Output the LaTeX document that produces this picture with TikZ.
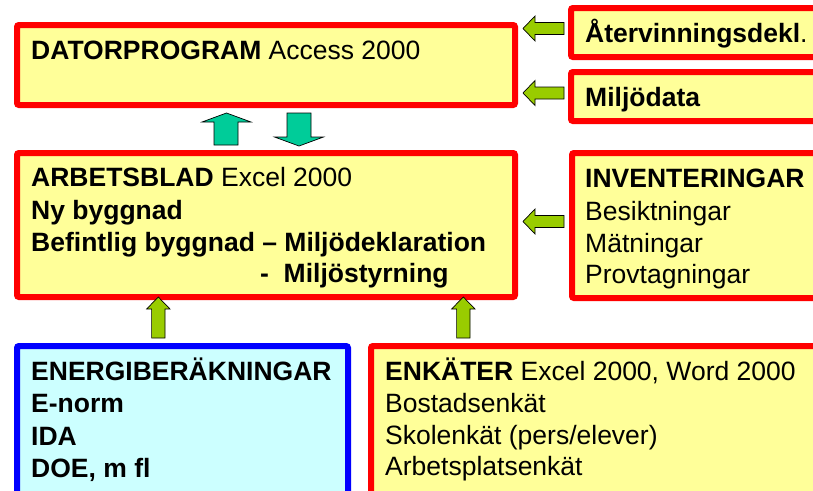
\documentclass[tikz,border=0pt]{standalone}
\usepackage{fontspec}
\setmainfont{Liberation Sans}
\definecolor{boxyellow}{HTML}{FFFF99}
\definecolor{boxcyan}{HTML}{CCFFFF}
\definecolor{arrgreen}{HTML}{99CC00}
\definecolor{arrteal}{HTML}{00CC99}
\tikzset{
  box/.style={draw=red, fill=boxyellow, line width=6pt, rounded corners=2pt, inner sep=0pt, outer sep=0pt, anchor=north west},
  bluebox/.style={box, draw=blue, fill=boxcyan},
  txt/.style={inner sep=0pt, anchor=base west, font=\fontsize{26.5}{32}\selectfont},
  garrow/.style={draw=black, line width=0.7pt, fill=arrgreen, line join=miter},
  tarrow/.style={draw=black, line width=0.7pt, fill=arrteal, line join=miter},
  pics/leftarr/.style={code={\draw[garrow] (0,0) -- (12,-12.5) -- (12,-6) -- (41,-6) -- (41,6) -- (12,6) -- (12,12.5) -- cycle;}},
  pics/uparr/.style={code={\draw[garrow] (0,0) -- (11.7,12) -- (6.7,12) -- (6.7,41) -- (-6.7,41) -- (-6.7,12) -- (-11.7,12) -- cycle;}},
}
\begin{document}
\begin{tikzpicture}[x=1pt,y=-1pt]
\useasboundingbox (0,0) rectangle (813,490);
\clip (0,0) rectangle (813,490);
% boxes
\node[box, minimum width=498pt, minimum height=80pt] (dator) at (17,25) {};
\node[box, minimum width=260pt, minimum height=49pt] (ater) at (571,8) {};
\node[box, minimum width=260pt, minimum height=49pt] (milj) at (571,72) {};
\node[box, minimum width=498pt, minimum height=144pt] (arb) at (17,153) {};
\node[box, minimum width=260pt, minimum height=145pt] (inv) at (572,153) {};
\node[bluebox, minimum width=331pt, minimum height=160pt] (energi) at (17,346) {};
\node[box, minimum width=460pt, minimum height=160pt] (enk) at (371,346) {};
% texts
\node[txt] (t1) at (31,59) {\textbf{DATORPROGRAM} Access 2000};
\node[txt] (t2) at (585,42) {\textbf{Återvinningsdekl}.};
\node[txt] (t3) at (585,106) {\textbf{Miljödata}};
\node[txt] (t4) at (31,186) {\textbf{ARBETSBLAD} Excel 2000};
\node[txt] (t5) at (31,219) {\textbf{Ny byggnad}};
\node[txt] (t6) at (31,251) {\textbf{Befintlig byggnad – Miljödeklaration}};
\node[txt] (t7) at (260,282) {\textbf{-\ \ Miljöstyrning}};
\node[txt] (t8) at (585,187) {\textbf{INVENTERINGAR}};
\node[txt] (t9) at (585,220) {Besiktningar};
\node[txt] (t10) at (585,252) {Mätningar};
\node[txt] (t11) at (585,283) {Provtagningar};
\node[txt] (t12) at (31,380) {\textbf{ENERGIBERÄKNINGAR}};
\node[txt] (t13) at (31,412) {\textbf{E-norm}};
\node[txt] (t14) at (31,445) {\textbf{IDA}};
\node[txt] (t15) at (31,477) {\textbf{DOE, m fl}};
\node[txt] (t16) at (385,380) {\textbf{ENKÄTER} Excel 2000, Word 2000};
\node[txt] (t17) at (385,412) {Bostadsenkät};
\node[txt] (t18) at (385,444) {Skolenkät (pers/elever)};
\node[txt] (t19) at (385,475) {Arbetsplatsenkät};
% green arrows
\pic at (523,28.5) {leftarr};
\pic at (523,93) {leftarr};
\pic at (523,221.5) {leftarr};
\pic at (158.3,297) {uparr};
\pic at (463.3,297) {uparr};
% teal arrows
\draw[tarrow] (226.5,113) -- (251,122) -- (238,122) -- (238,145) -- (214,145) -- (214,122) -- (202,122) -- cycle;
\draw[tarrow] (299,146) -- (323.5,137) -- (311,137) -- (311,113) -- (287,113) -- (287,137) -- (274.5,137) -- cycle;
\end{tikzpicture}
\end{document}
